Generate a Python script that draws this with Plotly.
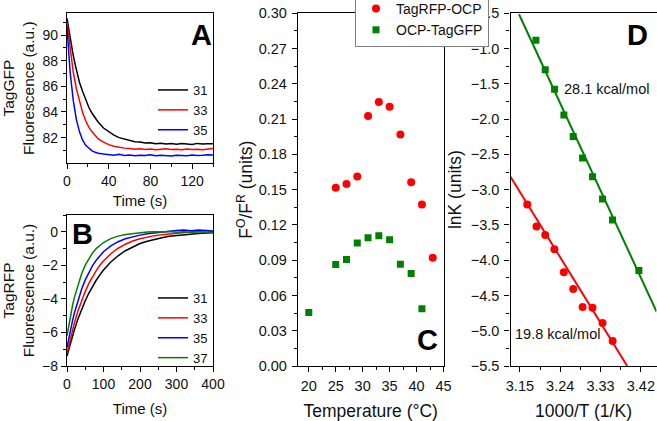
import plotly.graph_objects as go

FONT = "Liberation Sans, Arial, sans-serif"

# ---------------- Panel A data (TagGFP fluorescence) ----------------
tA = [0, 3, 6, 9, 12, 15, 18, 21, 24, 27, 30, 35, 40, 45, 50, 55, 60, 65, 70, 75,
      80, 85, 90, 95, 100, 105, 110, 115, 120, 125, 130, 135, 140]
a31 = [91.3, 89.7, 88.4, 87.3, 86.3, 85.6, 84.9, 84.35, 83.9, 83.5, 83.2, 82.75, 82.45,
       82.2, 82.0, 81.88, 81.78, 81.68, 81.66, 81.58, 81.6, 81.52, 81.56, 81.5, 81.54,
       81.48, 81.55, 81.5, 81.46, 81.55, 81.5, 81.53, 81.52]
a33 = [91.0, 88.8, 87.1, 85.8, 84.75, 83.95, 83.3, 82.8, 82.45, 82.15, 81.9, 81.65, 81.45,
       81.33, 81.25, 81.18, 81.15, 81.1, 81.14, 81.08, 81.12, 81.06, 81.1, 81.13, 81.07,
       81.1, 81.05, 81.12, 81.08, 81.1, 81.06, 81.14, 81.16]
a35 = [90.6, 87.1, 84.9, 83.4, 82.45, 81.8, 81.4, 81.15, 80.97, 80.86, 80.78, 80.72, 80.66,
       80.62, 80.7, 80.6, 80.64, 80.58, 80.62, 80.6, 80.66, 80.58, 80.62, 80.6, 80.57,
       80.63, 80.6, 80.58, 80.64, 80.6, 80.62, 80.66, 80.64]

# ---------------- Panel B data (TagRFP fluorescence) ----------------
tB = [0, 5, 10, 15, 20, 30, 40, 50, 60, 70, 80, 90, 100, 120, 140, 160, 180, 200,
      220, 240, 260, 280, 300, 320, 340, 360, 380, 400]
b31 = [-7.4, -6.98, -6.58, -6.2, -5.85, -5.2, -4.62, -4.11, -3.65, -3.25, -2.89, -2.57,
       -2.28, -1.8, -1.43, -1.13, -0.89, -0.7, -0.56, -0.44, -0.35, -0.27, -0.22, -0.17,
       -0.13, -0.1, -0.08, -0.06]
b33 = [-7.25, -6.75, -6.28, -5.85, -5.45, -4.72, -4.09, -3.55, -3.08, -2.67, -2.31, -2.0,
       -1.74, -1.31, -0.98, -0.74, -0.55, -0.42, -0.31, -0.23, -0.17, -0.13, -0.08, -0.05,
       0.0, 0.05, 0.08, 0.0]
b35 = [-6.9, -6.32, -5.79, -5.31, -4.86, -4.08, -3.42, -2.87, -2.41, -2.02, -1.7, -1.42,
       -1.19, -0.84, -0.59, -0.42, -0.29, -0.2, -0.12, -0.06, 0.0, 0.05, 0.08, 0.1, 0.06,
       0.1, 0.08, 0.05]
b37 = [-6.2, -5.53, -4.94, -4.41, -3.94, -3.14, -2.5, -1.99, -1.59, -1.26, -1.0, -0.8,
       -0.64, -0.41, -0.26, -0.16, -0.1, -0.05, -0.02, 0.0, -0.02, 0.02, -0.03, 0.0, -0.05,
       0.0, -0.03, -0.05]

# ---------------- Panel C data (F^O/F^R vs temperature) ----------------
tempRFP = [25, 27, 29, 31, 33, 35, 37, 39, 41, 43]
ratioRFP = [0.1516, 0.1547, 0.1612, 0.2126, 0.2245, 0.2205, 0.197, 0.1564, 0.1374, 0.092]
tempGFP = [20, 25, 27, 29, 31, 33, 35, 37, 39, 41]
ratioGFP = [0.0454, 0.0863, 0.0905, 0.1047, 0.109, 0.1107, 0.1073, 0.0866, 0.0786, 0.0488]

# ---------------- Panel D data (Arrhenius) ----------------
invT_RFP = [3.1664, 3.187, 3.2065, 3.227, 3.248, 3.269, 3.29, 3.312, 3.3345, 3.357]
lnK_RFP = [-3.212, -3.524, -3.642, -3.844, -4.17, -4.41, -4.665, -4.675, -4.892, -5.146]
invT_GFP = [3.1857, 3.2065, 3.2274, 3.2482, 3.269, 3.2899, 3.3122, 3.3345, 3.3568, 3.4156]
lnK_GFP = [-0.882, -1.302, -1.575, -1.943, -2.245, -2.552, -2.816, -3.132, -3.429, -4.146]
fitGFP_x = [3.148, 3.455]
fitGFP_y = [-0.514, -4.727]
fitRFP_x = [3.129, 3.3896]
fitRFP_y = [-2.816, -5.5]

BLACK, RED, BLUE, GREEN = "#000000", "#ff0000", "#0000ff", "#008000"
LW = 1.5

fig = go.Figure()

# Panel A
for y, c, n in [(a31, BLACK, "31"), (a33, RED, "33"), (a35, BLUE, "35")]:
    fig.add_trace(go.Scatter(x=tA, y=y, mode="lines", line=dict(color=c, width=LW),
                             name=n, xaxis="x", yaxis="y", legend="legend2"))
# Panel B
for y, c, n in [(b31, BLACK, "31"), (b33, RED, "33"), (b35, BLUE, "35"), (b37, GREEN, "37")]:
    fig.add_trace(go.Scatter(x=tB, y=y, mode="lines", line=dict(color=c, width=LW),
                             name=n, xaxis="x2", yaxis="y2", legend="legend3"))
# Panel C
fig.add_trace(go.Scatter(x=tempRFP, y=ratioRFP, mode="markers", name="TagRFP-OCP",
                         marker=dict(color=RED, size=8, symbol="circle"),
                         xaxis="x3", yaxis="y3", legend="legend"))
fig.add_trace(go.Scatter(x=tempGFP, y=ratioGFP, mode="markers", name="OCP-TagGFP",
                         marker=dict(color=GREEN, size=7, symbol="square"),
                         xaxis="x3", yaxis="y3", legend="legend"))
# Panel D
fig.add_trace(go.Scatter(x=fitGFP_x, y=fitGFP_y, mode="lines", line=dict(color=GREEN, width=2),
                         showlegend=False, xaxis="x4", yaxis="y4"))
fig.add_trace(go.Scatter(x=fitRFP_x, y=fitRFP_y, mode="lines", line=dict(color=RED, width=2),
                         showlegend=False, xaxis="x4", yaxis="y4"))
fig.add_trace(go.Scatter(x=invT_GFP, y=lnK_GFP, mode="markers", showlegend=False,
                         marker=dict(color=GREEN, size=7, symbol="square"),
                         xaxis="x4", yaxis="y4"))
fig.add_trace(go.Scatter(x=invT_RFP, y=lnK_RFP, mode="markers", showlegend=False,
                         marker=dict(color=RED, size=8, symbol="circle"),
                         xaxis="x4", yaxis="y4"))

W, H = 657, 421


def px_x(a, b):
    return [a / W, b / W]


def px_y(top, bottom):
    return [1 - bottom / H, 1 - top / H]


def ax(domain, rng, dtick, tick0, minor_dtick, fsize, title, tsize, standoff,
       anchor, fmt=None, lstand=0):
    d = dict(domain=domain, range=rng, dtick=dtick, tick0=tick0, tickmode="linear",
             showline=True, linecolor="black", linewidth=1.3, mirror=True,
             ticks="outside", ticklen=5, tickwidth=1.3, tickcolor="black",
             showgrid=False, zeroline=False, anchor=anchor, automargin=False,
             tickfont=dict(family=FONT, size=fsize, color="#111"),
             ticklabelstandoff=lstand,
             minor=dict(ticks="outside", ticklen=3, tickwidth=1.2, tickcolor="black",
                        dtick=minor_dtick, tick0=tick0, showgrid=False),
             title=dict(text=title, font=dict(family=FONT, size=tsize, color="#111"),
                        standoff=standoff))
    if fmt:
        d["tickformat"] = fmt
    return d


xA = px_x(67, 213)
yA = px_y(13.3, 163)
yB = px_y(215, 366)
xC = px_x(298, 443.5)
yCD = px_y(13.3, 366)
xD = px_x(510.5, 656.5)

fig.update_layout(
    width=W, height=H, margin=dict(l=0, r=0, t=0, b=0, autoexpand=False),
    paper_bgcolor="white", plot_bgcolor="white",
    font=dict(family=FONT, color="#111"),
    xaxis=ax(xA, [0, 140], 40, 0, 20, 14, "Time (s)", 15, 7, "y"),
    yaxis=ax(yA, [80.02, 91.7], 2, 80, 1, 14, "TagGFP<br>Fluorescence (a.u.)", 15.5, 4, "x"),
    xaxis2=ax(xA, [0, 400], 100, 0, 50, 14, "Time (s)", 15, 12, "y2"),
    yaxis2=ax(yB, [-8, 1], 2, 0, 1, 14, "TagRFP<br>Fluorescence (a.u.)", 15.5, 4, "x2"),
    xaxis3=ax(xC, [18, 45], 5, 20, 2.5, 14.5, "Temperature (°C)", 17.5, 12, "y3", lstand=1),
    yaxis3=ax(yCD, [0, 0.30], 0.03, 0, 0.015, 14.5, "F<sup>O</sup>/F<sup>R</sup> (units)",
              17.5, 1, "x3", fmt=".2f", lstand=2),
    xaxis4=ax(xD, [3.129, 3.455], 0.09, 3.15, 0.045, 14.5, "1000/T (1/K)", 17.5, 13, "y4",
              fmt=".2f", lstand=1),
    yaxis4=ax(yCD, [-5.5, -0.5], 0.5, -5.5, 0.25, 14.5, "lnK (units)", 17.5, 4, "x4",
              fmt=".1f", lstand=2),
    legend=dict(x=355 / W, y=1 + 8 / H, xanchor="left", yanchor="top",
                bgcolor="white", bordercolor="#808080", borderwidth=1,
                font=dict(family=FONT, size=14, color="#111"),
                itemwidth=30, tracegroupgap=0),
    legend2=dict(x=153 / W, y=1 - 75 / H, xanchor="left", yanchor="top",
                 bgcolor="rgba(0,0,0,0)", borderwidth=0,
                 font=dict(family=FONT, size=13, color="#111"), itemwidth=30),
    legend3=dict(x=153 / W, y=1 - 283 / H, xanchor="left", yanchor="top",
                 bgcolor="rgba(0,0,0,0)", borderwidth=0,
                 font=dict(family=FONT, size=13, color="#111"), itemwidth=30),
    showlegend=True,
)

letter_font = dict(family=FONT, size=29, color="black", weight="bold")
annos = [
    dict(text="<b>A</b>", xref="x domain", yref="y domain", x=0.918, y=0.855),
    dict(text="<b>B</b>", xref="x2 domain", yref="y2 domain", x=0.103, y=0.874),
    dict(text="<b>C</b>", xref="x3 domain", yref="y3 domain", x=0.89, y=0.074),
    dict(text="<b>D</b>", xref="x4 domain", yref="y4 domain", x=0.873, y=0.938),
]
for a in annos:
    fig.add_annotation(showarrow=False, xanchor="center", yanchor="middle",
                       font=letter_font, **a)

fig.add_annotation(text="28.1 kcal/mol", x=3.243, y=-1.575, xref="x4", yref="y4",
                   xanchor="left", yanchor="middle", showarrow=False,
                   font=dict(family=FONT, size=14.5, color="#111"))
fig.add_annotation(text="19.8 kcal/mol", x=3.1336, y=-5.04, xref="x4", yref="y4",
                   xanchor="left", yanchor="middle", showarrow=False,
                   font=dict(family=FONT, size=14.5, color="#111"))

fig.write_html("out.html",
               config={"displayModeBar": False},
               post_script="document.body.style.margin='0px';"
                           "document.body.style.overflow='hidden';")
